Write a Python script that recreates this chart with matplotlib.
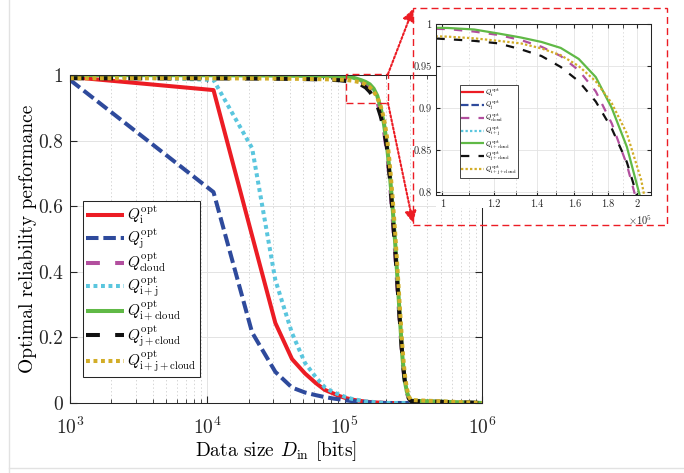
import matplotlib
matplotlib.use('Agg')
import matplotlib.pyplot as plt
from matplotlib.patches import Rectangle, FancyArrowPatch
from matplotlib.ticker import FixedLocator, NullFormatter, LogLocator

# Data size D_in [bits], sample points of the sweep (the rest of the sweep is 0 for every curve)
D_bits = [1.0e3, 1.109e4, 2.118e4, 3.127e4, 4.136e4, 5.145e4, 6.155e4, 7.164e4,
          8.173e4, 9.182e4, 1.0191e5, 1.12e5, 1.2209e5, 1.3218e5, 1.4227e5, 1.5236e5,
          1.6245e5, 1.7255e5, 1.8264e5, 1.9273e5, 2.0282e5, 2.1291e5, 2.23e5, 2.3309e5,
          2.4318e5, 2.5327e5, 2.6336e5, 2.7345e5, 2.8355e5, 2.9364e5, 3.0373e5, 1.0e6]

Q_i = [0.994, 0.954, 0.51, 0.244, 0.134, 0.09, 0.061, 0.040, 0.030, 0.021, 0.015,
       0.011, 0.008, 0.006, 0.004, 0.003, 0.002, 0.0015, 0.001, 0.0005, 0.0, 0.0,
       0.0, 0.0, 0.0, 0.0, 0.0, 0.0, 0.0, 0.0, 0.0, 0.0]
Q_j = [0.985, 0.643, 0.215, 0.095, 0.047, 0.032, 0.024, 0.018, 0.014, 0.011, 0.008,
       0.006, 0.005, 0.004, 0.003, 0.002, 0.0015, 0.001, 0.0005, 0.0, 0.0, 0.0,
       0.0, 0.0, 0.0, 0.0, 0.0, 0.0, 0.0, 0.0, 0.0, 0.0]
Q_cloud = [0.999, 0.9985, 0.998, 0.9975, 0.997, 0.9965, 0.996, 0.9955, 0.995, 0.9945,
           0.994, 0.991, 0.987, 0.981, 0.973, 0.962, 0.945, 0.920, 0.882, 0.833,
           0.77, 0.68, 0.57, 0.46, 0.34, 0.23, 0.13, 0.065, 0.03, 0.013, 0.006, 0.0]
Q_ij = [0.999, 0.985, 0.777, 0.375, 0.213, 0.122, 0.079, 0.048, 0.034, 0.025, 0.018,
        0.013, 0.010, 0.007, 0.005, 0.004, 0.003, 0.002, 0.001, 0.0005, 0.0, 0.0,
        0.0, 0.0, 0.0, 0.0, 0.0, 0.0, 0.0, 0.0, 0.0, 0.0]
Q_icloud = [0.9999, 0.9993, 0.9988, 0.9983, 0.9978, 0.9974, 0.997, 0.9966, 0.9962, 0.9958,
            0.9953, 0.9935, 0.9887, 0.984, 0.9787, 0.9716, 0.9585, 0.937, 0.9004, 0.8542,
            0.79, 0.70, 0.60, 0.49, 0.37, 0.25, 0.14, 0.07, 0.035, 0.015, 0.007, 0.0]
Q_jcloud = [0.99, 0.9895, 0.989, 0.9885, 0.988, 0.9875, 0.987, 0.986, 0.985, 0.984,
            0.982, 0.980, 0.977, 0.970, 0.962, 0.949, 0.932, 0.908, 0.876, 0.836,
            0.78, 0.69, 0.58, 0.47, 0.35, 0.24, 0.14, 0.07, 0.032, 0.014, 0.006, 0.0]
Q_ijcloud = [0.99, 0.9898, 0.9895, 0.989, 0.9885, 0.988, 0.9875, 0.987, 0.9865, 0.986,
             0.985, 0.983, 0.980, 0.977, 0.971, 0.963, 0.950, 0.932, 0.906, 0.870,
             0.815, 0.73, 0.63, 0.52, 0.40, 0.28, 0.17, 0.09, 0.045, 0.02, 0.009, 0.0]

labels = [r'$Q_{\mathrm{i}}^{\mathrm{opt}}$', r'$Q_{\mathrm{j}}^{\mathrm{opt}}$',
          r'$Q_{\mathrm{cloud}}^{\mathrm{opt}}$', r'$Q_{\mathrm{i+j}}^{\mathrm{opt}}$',
          r'$Q_{\mathrm{i+cloud}}^{\mathrm{opt}}$', r'$Q_{\mathrm{j+cloud}}^{\mathrm{opt}}$',
          r'$Q_{\mathrm{i+j+cloud}}^{\mathrm{opt}}$']

inset_xticks = [1.0e5, 1.2e5, 1.4e5, 1.6e5, 1.8e5, 2.0e5]
inset_xticklabels = ['1', '1.2', '1.4', '1.6', '1.8', '2']
inset_yticks = [0.8, 0.85, 0.9, 0.95, 1.0]
inset_yticklabels = ['0.8', '0.85', '0.9', '0.95', '1']

plt.rcParams['font.family'] = ['cmr10', 'DejaVu Serif']
plt.rcParams['mathtext.fontset'] = 'cm'
plt.rcParams['axes.formatter.use_mathtext'] = True
plt.rcParams['lines.scale_dashes'] = False

RED = '#ec1c24'
# (values, colour, dash pattern in points or None for solid)
series = [
    (Q_i, RED, None),
    (Q_j, '#2e4a9c', (9, 3.5)),
    (Q_cloud, '#b24f9e', (10, 11)),
    (Q_ij, '#5ac6de', (2.8, 2.6)),
    (Q_icloud, '#60b946', None),
    (Q_jcloud, '#111111', (10, 11)),
    (Q_ijcloud, '#d2ad27', (2.8, 2.6)),
]

W, H = 684, 473
fig = plt.figure(figsize=(W / 100, H / 100), dpi=100)

def fbox(x0, y0, x1, y1):
    # pixel box (top-left origin) -> figure fraction [left, bottom, width, height]
    return [x0 / W, 1 - y1 / H, (x1 - x0) / W, (y1 - y0) / H]

def style_axes(ax, size):
    for s in ax.spines.values():
        s.set_color('#262626')
        s.set_linewidth(0.75)
    ax.tick_params(which='both', direction='in', top=True, right=True,
                   colors='#262626', labelsize=size)

def draw_curves(ax, lw, dscale):
    for vals, col, dash in series:
        line, = ax.plot(D_bits, vals, color=col, lw=lw,
                        solid_capstyle='butt', dash_capstyle='butt')
        if dash is not None:
            line.set_dashes([d * dscale for d in dash])

# ---- main axes ----
ax = fig.add_axes(fbox(70, 75, 482, 403))
draw_curves(ax, 2.9, 1.0)
ax.set_xscale('log')
ax.set_xlim(1e3, 1e6)
ax.set_ylim(0, 1)
ax.set_yticks([0, 0.2, 0.4, 0.6, 0.8, 1.0])
ax.set_yticklabels(['0', '0.2', '0.4', '0.6', '0.8', '1'])
ax.xaxis.set_minor_locator(LogLocator(base=10, subs=range(2, 10)))
ax.xaxis.set_minor_formatter(NullFormatter())
ax.grid(True, which='major', color='#e3e3e3', lw=0.7)
ax.grid(True, which='minor', axis='x', color='#cfcfcf', lw=0.6, ls=':')
ax.set_axisbelow(True)
style_axes(ax, 14)
ax.tick_params(which='major', length=5)
ax.tick_params(which='minor', length=3)
ax.tick_params(axis='x', pad=10)
ax.tick_params(axis='y', pad=5)
ax.set_xlabel(r'Data size $D_{\mathrm{in}}$ [bits]', fontsize=14, labelpad=1)
ax.set_ylabel('Optimal reliability performance', fontsize=14, labelpad=1)

leg = ax.legend(labels, loc='lower left', bbox_to_anchor=(0.032, 0.079), borderaxespad=0,
                fontsize=11, handlelength=2.5, handletextpad=0.2, labelspacing=0.0,
                borderpad=0.2, fancybox=False, framealpha=1, edgecolor='#262626')
leg.get_frame().set_linewidth(0.75)

# zoom window in the main axes
ax.add_patch(Rectangle((1.02e5, 0.914), 2.07e5 - 1.02e5, 1.003 - 0.914, fill=False,
                       ec=RED, lw=1.0, ls=(0, (5, 3)), clip_on=False, zorder=5))

# ---- white backing + inset ----
fig.patches.append(Rectangle((436 / W, 1 - 208 / H), 231 / W, 200 / H, transform=fig.transFigure,
                             fc='white', ec='none', zorder=2))
axi = fig.add_axes(fbox(436, 24, 651, 195), zorder=3)
draw_curves(axi, 1.6, 0.6)
axi.set_xscale('log')
axi.set_xlim(0.978e5, 2.10e5)
axi.set_ylim(0.797, 1.0)
axi.xaxis.set_major_locator(FixedLocator(inset_xticks))
axi.set_xticklabels(inset_xticklabels)
axi.xaxis.set_minor_locator(FixedLocator([1.1e5, 1.3e5, 1.5e5, 1.7e5, 1.9e5]))
axi.xaxis.set_minor_formatter(NullFormatter())
axi.set_yticks(inset_yticks)
axi.set_yticklabels(inset_yticklabels)
axi.grid(True, which='major', color='#e3e3e3', lw=0.6)
axi.grid(True, which='minor', axis='x', color='#cfcfcf', lw=0.5, ls=':')
axi.set_axisbelow(True)
style_axes(axi, 7.5)
axi.tick_params(which='both', length=3, pad=3)
ileg = axi.legend(labels, loc='lower left', bbox_to_anchor=(0.112, 0.099), borderaxespad=0,
                  fontsize=4.9, handlelength=3.3, handletextpad=0.2, labelspacing=0.0,
                  borderpad=0.2, fancybox=False, framealpha=1, edgecolor='#262626')
ileg.get_frame().set_linewidth(0.6)
fig.text(640 / W, 1 - 220 / H, r'$\times10^5$', fontsize=7.5, ha='center', va='center',
         color='#262626', zorder=4)

# dashed frame round the inset and the two arrows
fig.patches.append(Rectangle((413 / W, 1 - 225 / H), 254 / W, 217 / H, transform=fig.transFigure,
                             fill=False, ec=RED, lw=1.0, ls=(0, (5, 3)), zorder=4))
for (x0, y0), (x1, y1) in [((388, 74), (413, 9)), ((388, 103), (413, 223))]:
    fig.add_artist(FancyArrowPatch(
        (x0 / W, 1 - y0 / H), (x1 / W, 1 - y1 / H), transform=fig.transFigure,
        arrowstyle='-|>', mutation_scale=17, color=RED, lw=1.5, ls=(0, (1.5, 1.5)),
        shrinkA=0, shrinkB=0, zorder=5))

# light outer frame of the screenshot
fig.add_artist(plt.Line2D([9 / W, 9 / W], [0, 1], transform=fig.transFigure, color='#e2e2e2', lw=1))
fig.add_artist(plt.Line2D([9 / W, 1], [1 - 468 / H, 1 - 468 / H], transform=fig.transFigure,
                          color='#e2e2e2', lw=1))

fig.savefig('out.png', dpi=100)
